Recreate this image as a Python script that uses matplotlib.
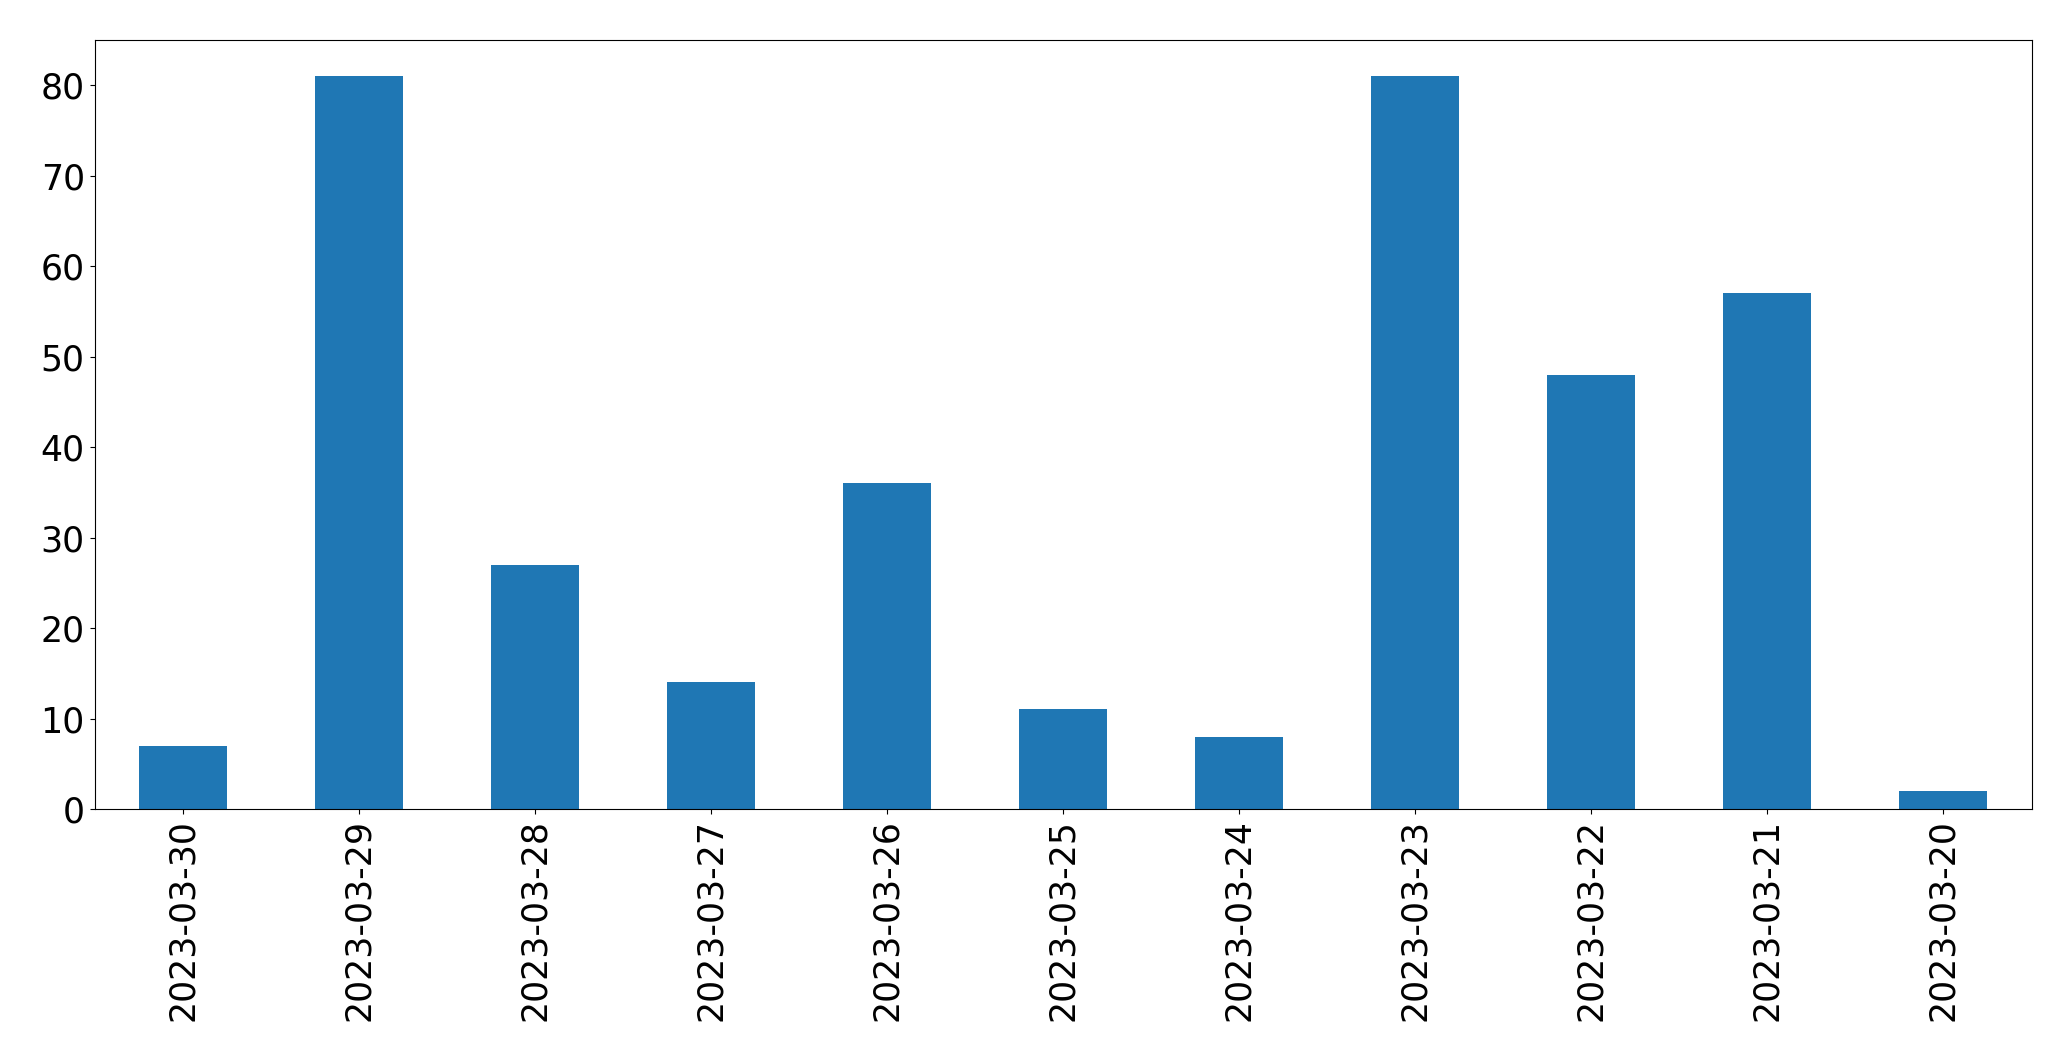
import matplotlib
matplotlib.use("Agg")
import matplotlib.pyplot as plt

dates = ["2023-03-30", "2023-03-29", "2023-03-28", "2023-03-27", "2023-03-26",
         "2023-03-25", "2023-03-24", "2023-03-23", "2023-03-22", "2023-03-21",
         "2023-03-20"]
counts = [7, 81, 27, 14, 36, 11, 8, 81, 48, 57, 2]

fig = plt.figure(figsize=(20.71, 10.61), dpi=100)
ax = fig.add_axes([94.5 / 2071, 1 - 809 / 1061, (2031.5 - 94.5) / 2071, (809 - 39.5) / 1061])
x = list(range(len(dates)))
ax.bar(x, counts, width=0.5, color="#1f77b4")
ax.set_xlim(-0.5, len(dates) - 0.5)
ax.set_ylim(0, max(counts) * 1.05)
ax.set_xticks(x)
ax.set_xticklabels(dates, rotation=90)
ax.tick_params(axis="x", labelsize=25)
ax.tick_params(axis="y", labelsize=25)
fig.savefig("out.png", dpi=100)
